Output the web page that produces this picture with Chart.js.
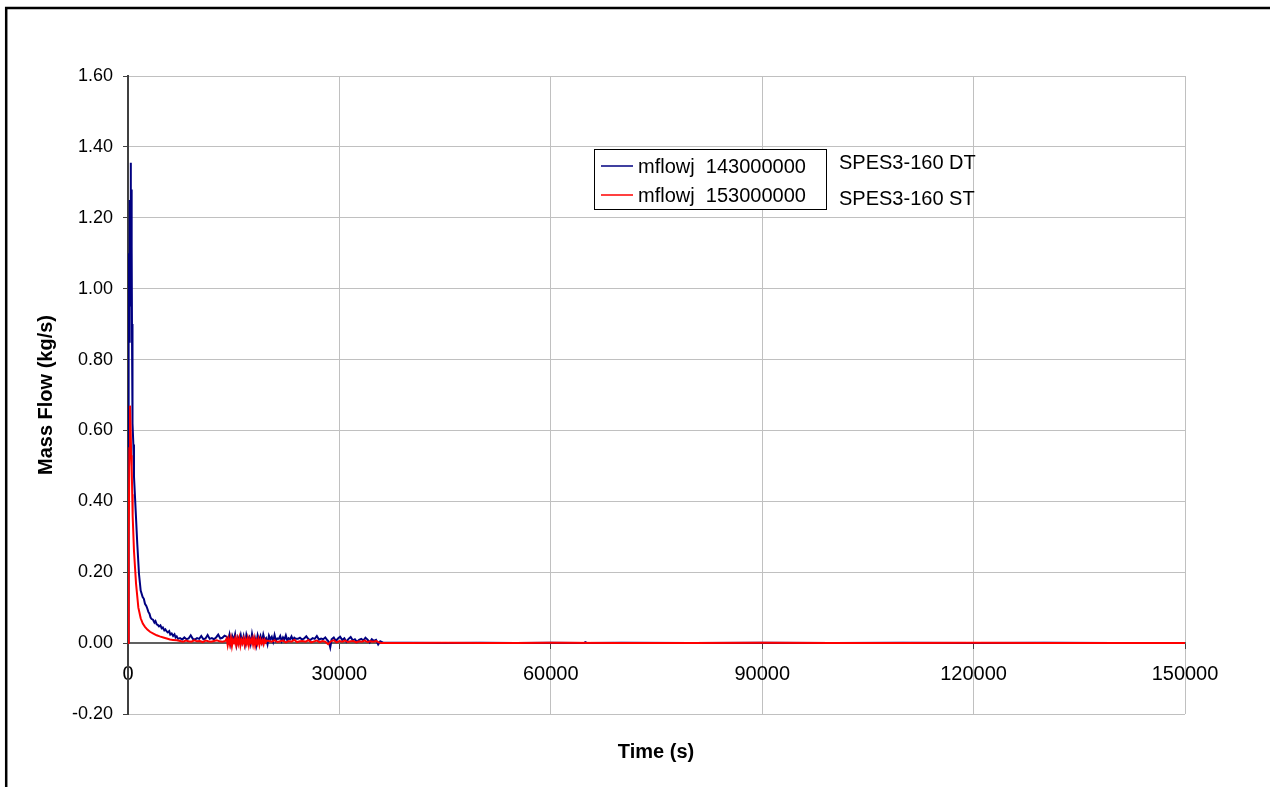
<!DOCTYPE html>
<html>
<head>
<meta charset="utf-8">
<script src="https://cdn.jsdelivr.net/npm/chart.js@4.4.1/dist/chart.umd.min.js"></script>
<style>
  body { margin: 0; background: #fff; }
  canvas { display: block; }
</style>
</head>
<body>
<canvas id="myChart" width="1270" height="787"></canvas>
<script>
// series names, side notes
var seriesNames = ['mflowj  143000000', 'mflowj  153000000'];
var sideNotes = ['SPES3-160 DT', 'SPES3-160 ST'];

// axis ticks
var yTicks = [-0.2, 0, 0.2, 0.4, 0.6, 0.8, 1.0, 1.2, 1.4, 1.6];
var xTicks = [0, 30000, 60000, 90000, 120000, 150000];

// DT (blue) - time (s) and mass flow (kg/s)
var dtTime = [0, 60, 120, 180, 240, 300, 380, 420, 460, 500, 540, 580, 620, 660, 760, 850, 1090, 1320, 1560, 1800,
  2080, 2250, 2410, 2600, 2750, 2890, 3050, 3200, 3360, 3550, 3750, 3900, 4070, 4250, 4400, 4600, 4780, 4950, 5150, 5300,
  5490, 5650, 5850, 6000, 6200, 6400, 6600, 6750, 6910, 7100, 7380,
  7700, 8000, 8300, 8600, 8900, 9200, 9500, 9800, 10100, 10400, 10700, 11000, 11300, 11600, 11900, 12200, 12500, 12800, 13100, 13400, 13700,
  14000, 14200, 14400, 14600, 14800, 15000, 15200, 15400, 15600, 15800, 16000, 16200, 16400, 16600, 16800, 17000, 17200, 17400, 17600, 17800,
  18000, 18200, 18400, 18600, 18800, 19000, 19200, 19400, 19600, 19800, 20000, 20200, 20400, 20600, 20800, 21000, 21200, 21400, 21600, 21800,
  22000, 22200, 22400, 22600, 22800, 23000, 23200, 23400, 23600, 23800,
  24100, 24400, 24700, 25000, 25300, 25600, 25900, 26200, 26500, 26800, 27100, 27400, 27700, 28000, 28300, 28500, 28700, 28900, 29200, 29500,
  29800, 30100, 30400, 30700, 31000, 31300, 31600, 31900, 32200, 32500, 32800, 33100, 33400, 33700, 34000, 34300, 34600, 34900, 35200, 35500,
  35800, 36200, 40000, 45000, 50000, 55000, 60000, 64700, 64900, 65200, 70000, 80000, 90000, 100000, 110000, 120000, 130000, 140000, 150000];
var dtFlow = [0, 0.90, 1.10, 0.85, 1.25, 1.05, 1.355, 1.12, 1.28, 0.95, 1.12, 0.82, 0.90, 0.62, 0.56, 0.47, 0.373, 0.279, 0.195, 0.148,
  0.130, 0.125, 0.111, 0.105, 0.097, 0.088, 0.083, 0.072, 0.068, 0.066, 0.058, 0.062, 0.053, 0.051, 0.047, 0.050, 0.042, 0.044, 0.036, 0.039,
  0.033, 0.030, 0.034, 0.024, 0.027, 0.020, 0.025, 0.016, 0.019, 0.012, 0.014,
  0.010, 0.016, 0.011, 0.013, 0.022, 0.012, 0.010, 0.014, 0.012, 0.020, 0.011, 0.013, 0.023, 0.012, 0.014, 0.011, 0.016, 0.024, 0.013, 0.015, 0.021,
  0.018, 0.006, 0.024, -0.002, 0.020, 0.008, 0.025, -0.005, 0.016, 0.006, 0.023, 0.002, 0.019, -0.004, 0.024, 0.010, 0.017, -0.002, 0.026, 0.005,
  0.015, -0.006, 0.022, 0.008, 0.020, 0.003, 0.024, 0.009, 0.014, -0.003, 0.021, 0.011, 0.018, 0.004, 0.023, 0.007, 0.013, 0.012, 0.020, 0.006,
  0.016, 0.010, 0.022, 0.008, 0.014, 0.011, 0.019, 0.009, 0.015, 0.012,
  0.012, 0.015, 0.010, 0.013, 0.019, 0.011, 0.009, 0.014, 0.012, 0.020, 0.010, 0.013, 0.011, 0.016, 0.008, 0.004, -0.012, 0.011, 0.016, 0.006,
  0.013, 0.018, 0.009, 0.014, 0.004, 0.012, 0.017, 0.008, 0.011, 0.003, 0.009, 0.012, 0.007, 0.015, 0.010, 0.002, 0.011, 0.006, 0.009, -0.004,
  0.005, 0.001, 0.001, 0.000, 0.001, 0.000, 0.001, 0.000, 0.003, 0.000, 0.001, 0.000, 0.001, 0.000, 0.001, 0.000, 0.001, 0.000, 0.000];

// ST (red) - time (s) and mass flow (kg/s)
var stTime = [0, 100, 200, 280, 380, 450, 520, 600, 660, 850, 1140, 1470, 1800, 2100, 2410, 2750, 3120, 3600, 4070, 4500,
  5010, 5500, 5960, 6400, 6910, 7400, 7800, 8200, 8600, 9000, 9400, 9800, 10200, 10600, 11000, 11400, 11800, 12200, 12600, 13000, 13400, 13800,
  14000, 14150, 14300, 14450, 14600, 14750, 14900, 15050, 15200, 15350, 15500, 15650, 15800, 15950, 16100, 16250, 16400, 16550, 16700, 16850,
  17000, 17150, 17300, 17450, 17600, 17750, 17900, 18050, 18200, 18350, 18500, 18650, 18800, 18950, 19100, 19250, 19400, 19550, 19700,
  20000, 20400, 20800, 21200, 21600, 22000, 22400, 22800, 23200, 23600, 24000, 24400, 24800, 25200, 25600, 26000, 26400, 26800, 27200, 27600,
  28000, 28400, 28800, 29200, 29600, 30000, 30400, 30800, 31200, 31600, 32000, 32400, 32800, 33200, 33600, 34000, 34400, 34800, 35200, 35600,
  36000, 40000, 45000, 50000, 55000, 60000, 70000, 80000, 90000, 100000, 110000, 120000, 130000, 140000, 150000];
var stFlow = [0, 0.30, 0.55, 0.67, 0.60, 0.53, 0.50, 0.42, 0.36, 0.26, 0.168, 0.100, 0.070, 0.055, 0.046, 0.038, 0.032, 0.027, 0.022, 0.019,
  0.016, 0.013, 0.010, 0.009, 0.008, 0.006, 0.004, 0.007, 0.005, 0.004, 0.008, 0.005, 0.006, 0.003, 0.007, 0.005, 0.004, 0.006, 0.008, 0.005, 0.004, 0.006,
  0.013, -0.006, 0.011, -0.003, 0.014, -0.008, 0.010, 0.002, 0.013, -0.005, 0.012, -0.002, 0.014, -0.007, 0.009, 0.000, 0.012, -0.005, 0.010, -0.002,
  0.013, -0.006, 0.010, 0.001, 0.012, -0.004, 0.013, -0.007, 0.008, -0.002, 0.011, -0.005, 0.010, 0.000, 0.008, -0.003, 0.009, 0.002, 0.007,
  0.006, 0.004, 0.008, 0.003, 0.005, 0.007, 0.002, 0.006, 0.004, 0.009, 0.003, 0.005, 0.006, 0.004, 0.008, 0.002, 0.005, 0.007, 0.003, 0.006,
  0.004, -0.003, 0.005, 0.008, 0.002, 0.006, 0.004, 0.007, 0.003, 0.005, 0.006, 0.002, 0.005, 0.004, 0.007, 0.003, 0.005, 0.004, 0.006, 0.002,
  0.000, 0.000, 0.001, 0.000, 0.000, 0.001, 0.000, 0.000, 0.001, 0.000, 0.000, 0.001, 0.000, 0.000, 0.000];

function toPoints(xs, ys) {
  var pts = [];
  for (var i = 0; i < xs.length; i++) {
    pts.push({x: xs[i], y: ys[i]});
  }
  return pts;
}

var fontFamily = "'Liberation Sans', Arial, sans-serif";
Chart.defaults.font.family = fontFamily;
Chart.defaults.color = '#000';

// frame, legend box, side notes and x title
var decor = {
  id: 'decor',
  afterDraw: function(chart) {
    var c = chart.ctx;
    c.save();
    // outer frame (cut at right / bottom)
    c.strokeStyle = '#000';
    c.lineWidth = 2.5;
    c.beginPath();
    c.moveTo(6.2, 800);
    c.lineTo(6.2, 7.9);
    c.lineTo(1280, 7.9);
    c.stroke();

    // legend box
    c.fillStyle = '#fff';
    c.fillRect(594, 149, 232, 60);
    c.lineWidth = 1;
    c.strokeRect(594.5, 149.5, 232, 60);
    var rows = [166, 195];
    chart.data.datasets.forEach(function(ds, i) {
      c.strokeStyle = ds.borderColor;
      c.lineWidth = 1.5;
      c.beginPath();
      c.moveTo(601, rows[i]);
      c.lineTo(633, rows[i]);
      c.stroke();
      c.fillStyle = '#000';
      c.font = '20px ' + fontFamily;
      c.textAlign = 'left';
      c.textBaseline = 'middle';
      c.fillText(ds.label, 638, rows[i] + 1);
    });
    c.fillText(sideNotes[0], 839, 163);
    c.fillText(sideNotes[1], 839, 199);

    // x axis title
    c.font = 'bold 20px ' + fontFamily;
    c.textAlign = 'center';
    c.fillText('Time (s)', 656, 752);
    c.restore();
  }
};

var ctx = document.getElementById('myChart').getContext('2d');

var myChart = new Chart(ctx, {
  type: 'line',
  data: {
    datasets: [{
      label: seriesNames[0],
      data: toPoints(dtTime, dtFlow),
      borderColor: '#000080',
      borderWidth: 2,
      pointRadius: 0,
      tension: 0,
      order: 2
    }, {
      label: seriesNames[1],
      data: toPoints(stTime, stFlow),
      borderColor: '#ff0000',
      borderWidth: 2,
      pointRadius: 0,
      tension: 0,
      order: 1
    }]
  },
  options: {
    responsive: false,
    animation: false,
    layout: { padding: { top: 76, right: 85, bottom: 73, left: 0 } },
    plugins: {
      legend: { display: false },
      tooltip: { enabled: false }
    },
    scales: {
      x: {
        type: 'linear',
        min: 0,
        max: 150000,
        position: { y: 0 },
        afterBuildTicks: function(scale) {
          scale.ticks = xTicks.map(function(v) { return {value: v}; });
        },
        ticks: {
          padding: 14,
          maxRotation: 0,
          font: { size: 20 },
          callback: function(v) { return String(v); }
        },
        grid: { color: '#c0c0c0', tickColor: '#404040', tickLength: 5 },
        border: { color: '#606060', width: 2 }
      },
      y: {
        min: -0.2,
        max: 1.6,
        afterBuildTicks: function(scale) {
          scale.ticks = yTicks.map(function(v) { return {value: v}; });
        },
        afterFit: function(scale) { scale.width = 128; },
        ticks: {
          padding: 10,
          font: { size: 18 },
          callback: function(v) { return v.toFixed(2); }
        },
        grid: { color: '#c0c0c0', tickColor: '#404040', tickLength: 5 },
        border: { color: '#404040', width: 2 },
        title: {
          display: true,
          text: 'Mass Flow (kg/s)',
          font: { size: 20, weight: 'bold' },
          padding: { top: 34, bottom: 0 }
        }
      }
    }
  },
  plugins: [decor]
});
</script>
</body>
</html>
